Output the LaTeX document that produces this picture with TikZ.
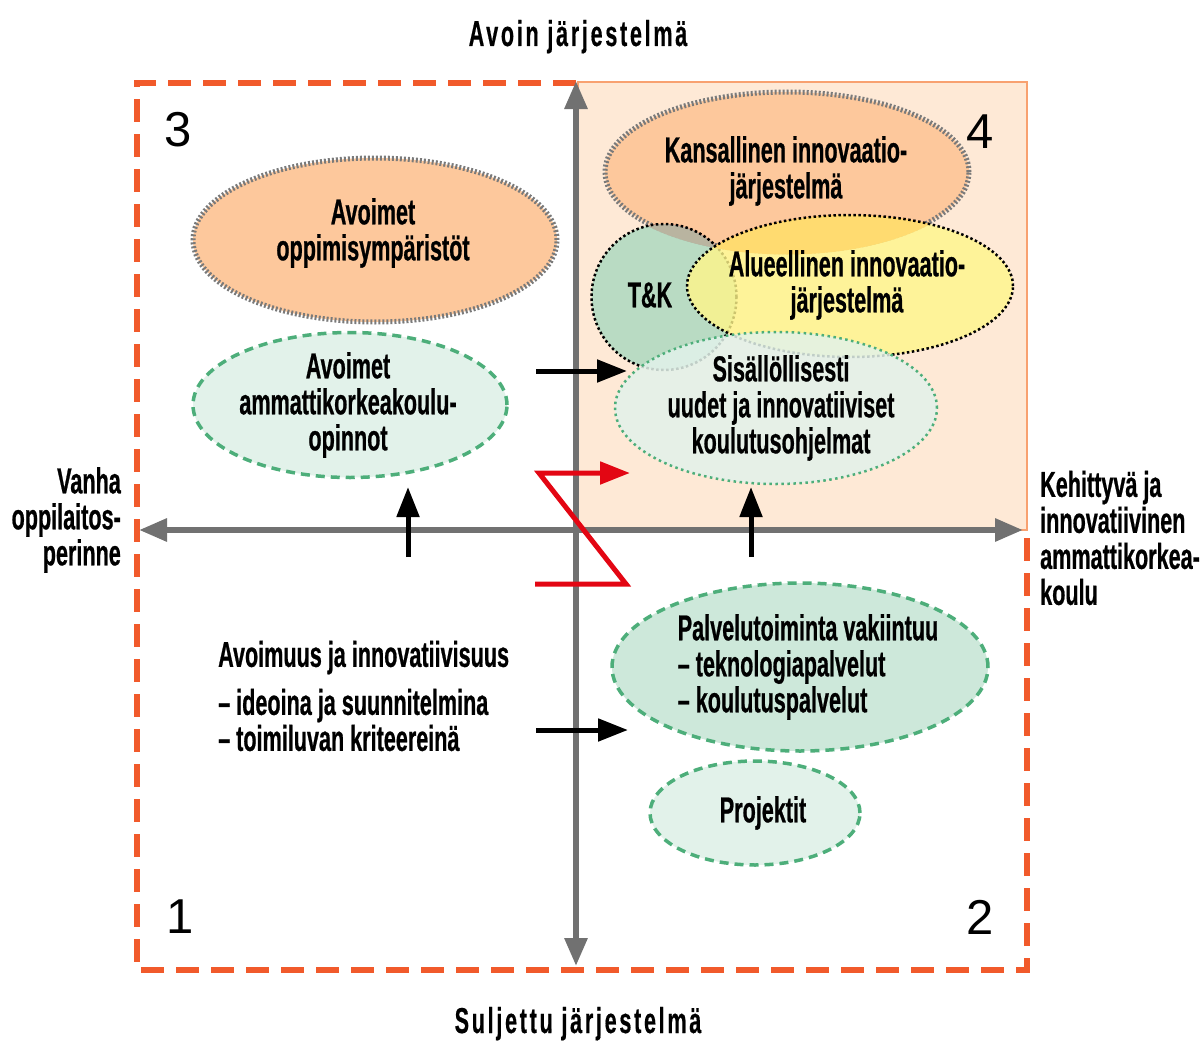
\documentclass[tikz,border=0pt]{standalone}
\usepackage{fontspec}
\setmainfont{Liberation Sans}
\newfontfamily\condfont{Liberation Sans Bold}[FakeStretch=0.6,FakeBold=0.6]
\newfontfamily\condspaced{Liberation Sans Bold}[FakeStretch=0.6,LetterSpace=7.5,FakeBold=0.4]
\usetikzlibrary{shapes.geometric,arrows.meta}

\definecolor{framered}{HTML}{F15A2B}
\definecolor{quadfill}{HTML}{FEE9D6}
\definecolor{quadline}{HTML}{F8A170}
\definecolor{axisgray}{HTML}{717171}
\definecolor{peach}{HTML}{FDC89C}
\definecolor{dotgray}{HTML}{7A7A7A}
\definecolor{mint}{HTML}{E2F2EA}
\definecolor{mintdark}{HTML}{CDE8DA}
\definecolor{greenline}{HTML}{4DAE7A}
\definecolor{tkgreen}{HTML}{A8D8BF}
\definecolor{lemon}{HTML}{FFF68A}
\definecolor{arrowred}{HTML}{E30613}
% under-tints that give the mixed colours where the bubbles overlap
\definecolor{tkunder}{RGB}{253,36,36}
\definecolor{lemonunder}{RGB}{255,111,8}

\tikzset{
  txt/.style={font=\condfont\fontsize{36}{36}\selectfont, inner sep=0pt, align=center},
  title/.style={font=\condspaced\fontsize{36}{36}\selectfont, inner sep=0pt},
  quadnum/.style={font=\fontsize{49}{49}\selectfont, inner sep=0pt},
  bubble/.style={ellipse, inner sep=0pt},
  peachbubble/.style={bubble, fill=peach, draw=dotgray, line width=5pt, dash pattern=on 2pt off 2pt},
  mintbubble/.style={bubble, fill=mint, draw=greenline, line width=3.5pt, dash pattern=on 9pt off 6pt},
  blackdots/.style={draw=black, line width=2.5pt, dash pattern=on 2.5pt off 2.5pt},
  greendots/.style={draw=greenline, line width=2.5pt, dash pattern=on 2.5pt off 3.5pt},
  axis/.style={draw=axisgray, line width=6pt,
    {Triangle[width=22pt,length=28pt]}-{Triangle[width=22pt,length=28pt]}},
  push/.style={draw=black, line width=5pt, -{Triangle[width=22pt,length=30pt]}},
  redpush/.style={draw=arrowred, line width=5pt, line join=miter,
    -{Triangle[width=22pt,length=30pt]}},
}

\begin{document}
\begin{tikzpicture}[x=1pt,y=-1pt]
\useasboundingbox (0,0) rectangle (1200,1041);

% quadrant 4 background
\draw[fill=quadfill, draw=quadline, line width=2.5pt] (578,82) rectangle (1027,530);

% dashed frame around quadrants 1-3
\draw[framered, line width=6pt, dash pattern=on 23pt off 12pt]
  (576,83) -- (137,83) -- (137,970) -- (1027,970) -- (1027,531);

% axes
\coordinate (xl) at (139,530);
\coordinate (xr) at (1023,530);
\coordinate (yt) at (576,81);
\coordinate (yb) at (576,966);
\draw[axis] (xl) -- (xr);
\draw[axis] (yb) -- (yt);

% axis titles
\node[title, anchor=base] (open) at (578,46) {Avoin järjestelmä};
\node[title, anchor=base] (closed) at (578,1033) {Suljettu järjestelmä};
\node[txt, align=right, anchor=east] (old) at (121,520) {Vanha\\oppilaitos-\\perinne};
\node[txt, align=left, anchor=west] (new) at (1040,538) {Kehittyvä ja\\innovatiivinen\\ammattikorkea-\\koulu};

% quadrant numbers
\node[quadnum] (q3) at (178,130) {3};
\node[quadnum] (q4) at (980,132) {4};
\node[quadnum] (q1) at (180,917) {1};
\node[quadnum] (q2) at (980,917) {2};

% quadrant 3
\node[peachbubble, minimum width=364pt, minimum height=164pt] (oppi) at (375,240) {};
\node[txt] (oppitxt) at (373,233) {Avoimet\\oppimisympäristöt};
\node[mintbubble, minimum width=314pt, minimum height=145pt] (amk) at (350,405) {};
\node[txt] (amktxt) at (348,405) {Avoimet\\ammattikorkeakoulu-\\opinnot};

% quadrant 4
\node[peachbubble, minimum width=364pt, minimum height=160pt] (kans) at (787,172) {};
\coordinate (tkc) at (664,297);
\coordinate (aluec) at (850,286);
\begin{scope}
  \clip (kans.center) ellipse [x radius=184.5pt, y radius=82.5pt];
  \fill[tkunder] (tkc) ellipse [x radius=72.5pt, y radius=73pt];
\end{scope}
\node[bubble, blackdots, fill=tkgreen, fill opacity=0.8, minimum width=145pt, minimum height=146pt] (tk) at (tkc) {};
\begin{scope}
  \clip (kans.center) ellipse [x radius=184.5pt, y radius=82.5pt];
  \fill[lemonunder] (aluec) ellipse [x radius=163pt, y radius=71pt];
\end{scope}
\node[bubble, blackdots, fill=lemon, fill opacity=0.8, minimum width=326pt, minimum height=142pt] (alue) at (aluec) {};
\node[txt] (kanstxt) at (786,171) {Kansallinen innovaatio-\\järjestelmä};
\node[txt] (tktxt) at (650,295) {T\&K};
\node[txt] (aluetxt) at (847,285) {Alueellinen innovaatio-\\järjestelmä};
\node[bubble, greendots, fill=mint, fill opacity=0.85, minimum width=322pt, minimum height=152pt] (sis) at (776,408) {};
\node[txt] (sistxt) at (781,408) {Sisällöllisesti\\uudet ja innovatiiviset\\koulutusohjelmat};

% quadrant 2
\node[mintbubble, fill=mintdark, minimum width=376pt, minimum height=168pt] (palv) at (800,667) {};
\node[txt, align=left] (palvtxt) at (808,667) {Palvelutoiminta vakiintuu\\– teknologiapalvelut\\– koulutuspalvelut};
\node[mintbubble, minimum width=210pt, minimum height=104pt] (proj) at (755,813) {};
\node[txt] (projtxt) at (763,813) {Projektit};

% quadrant 1
\node[txt, align=left, anchor=west] (idea) at (218,696)
  {Avoimuus ja innovatiivisuus\\[12pt]– ideoina ja suunnitelmina\\– toimiluvan kriteereinä};

% development arrows
\coordinate (a1s) at (536,371);
\coordinate (a1e) at (627,371);
\coordinate (a2s) at (536,730);
\coordinate (a2e) at (628,730);
\coordinate (a3s) at (408,557);
\coordinate (a3e) at (408,487);
\coordinate (a4s) at (751,557);
\coordinate (a4e) at (751,487);
\draw[push] (a1s) -- (a1e);
\draw[push] (a2s) -- (a2e);
\draw[push] (a3s) -- (a3e);
\draw[push] (a4s) -- (a4e);

% leap from quadrant 1 to quadrant 4
\coordinate (z1) at (535,584);
\coordinate (z2) at (626,584);
\coordinate (z3) at (539,473);
\coordinate (z4) at (630,473);
\draw[redpush] (z1) -- (z2) -- (z3) -- (z4);
\end{tikzpicture}
\end{document}
